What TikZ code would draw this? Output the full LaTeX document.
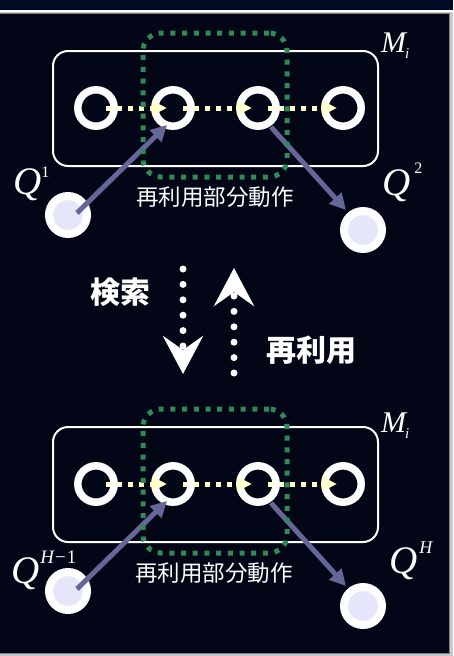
\documentclass[tikz,border=0pt]{standalone}
\usepackage{fontspec}
\newfontfamily\cjk{Noto Sans CJK JP}
\newfontfamily\tms{Liberation Serif}
\usetikzlibrary{arrows.meta,calc}
\definecolor{bg}{RGB}{3,6,22}
\definecolor{topband}{RGB}{0,12,38}
\definecolor{frame}{RGB}{200,200,205}
\definecolor{lav}{RGB}{230,230,250}
\definecolor{pur}{RGB}{102,102,153}
\definecolor{ylw}{RGB}{255,255,204}
\definecolor{grn}{RGB}{46,139,87}
\begin{document}
\begin{tikzpicture}[x=1pt,y=-1pt,
 ring/.style={circle,draw=white,line width=7.5pt,minimum size=36.4pt,inner sep=0pt},
 qnode/.style={circle,draw=white,fill=lav,line width=8pt,minimum size=38pt,inner sep=0pt},
 mbox/.style={draw=white,line width=2pt,rounded corners=15pt,minimum width=325pt,minimum height=115pt,inner sep=0pt},
 gbox/.style={draw=grn,line width=5pt,dash pattern=on 5pt off 6.7pt,rounded corners=18pt,minimum width=144pt,minimum height=144pt,inner sep=0pt},
 seq/.style={draw=ylw,line width=5pt,dash pattern=on 5pt off 6pt,-{Triangle[length=15pt,width=14pt]},shorten <=10pt,shorten >=6pt},
 use/.style={draw=pur,line width=5pt,-{Triangle[length=16pt,width=16pt]}},
 flow/.style={draw=white,line width=7pt,line cap=round,dash pattern=on 0pt off 15.4pt,-{Stealth[length=38pt,width=40pt,inset=14pt]}},
 lbl/.style={text=white,inner sep=0pt},
 part/.style={lbl,font=\cjk\fontsize{22.5}{24}\selectfont},
 big/.style={lbl,font=\cjk\bfseries\fontsize{30}{32}\selectfont},
]
\useasboundingbox (0,0) rectangle (453,656);
% background and frame
\fill[frame] (0,0) rectangle (453,656);
\fill[topband] (0,0) rectangle (453,9.5);
\fill[white] (0,9.5) rectangle (453,12);
\fill[bg] (0,12.5) rectangle (450,654);
\draw[gray,line width=1pt] (-1,13.5) -- (449.5,13.5) -- (449.5,653.5) -- (-1,653.5);

% two copies of the sequence diagram
\foreach \k/\s in {t/0,b/376}{
 \begin{scope}[shift={(0,\s)}]
  \node[mbox] (box\k) at (215.5,108.5) {};
  \node[ring] (c1\k) at (96,108) {};
  \node[ring] (c2\k) at (173,108) {};
  \node[ring] (c3\k) at (258,108) {};
  \node[ring] (c4\k) at (343,108) {};
  \draw[seq] (c1\k.center) -- (c2\k.center);
  \draw[seq] (c2\k.center) -- (c3\k.center);
  \draw[seq] (c3\k.center) -- (c4\k.center);
  \node[qnode] (qa\k) at (68,215) {};
  \node[qnode] (qb\k) at (363,230) {};
  \draw[use] ($(qa\k.center)+(9,-2)$) -- ($(c2\k.center)+(-6,17)$);
  \draw[use] ($(c3\k.center)+(13,19)$) -- ($(qb\k.center)+(-17,-20)$);
  \node[gbox] (g\k) at (215,105) {};
 \end{scope}
}
\node[part] (pt) at (215,197) {再利用部分動作};
\node[part] (pb) at (214,573) {再利用部分動作};

% labels
\node[lbl,anchor=base west] (mt) at (381,52) {\tms\fontsize{30}{30}\selectfont\itshape M\kern-1pt\raisebox{-6pt}{\fontsize{15}{15}\selectfont i}};
\node[lbl,anchor=base west] (mb) at (381,432) {\tms\fontsize{30}{30}\selectfont\itshape M\kern-1pt\raisebox{-6pt}{\fontsize{15}{15}\selectfont i}};
\node[lbl,anchor=base west] (lq1) at (13,194) {\tms\fontsize{39}{39}\selectfont\itshape Q\kern0pt\raisebox{17pt}{\fontsize{16}{16}\selectfont\upshape 1}};
\node[lbl,anchor=base west] (lq2) at (382,195) {\tms\fontsize{39}{39}\selectfont\itshape Q\kern4pt\raisebox{22pt}{\fontsize{16}{16}\selectfont\upshape 2}};
\node[lbl,anchor=base west] (lqh1) at (11,583) {\tms\fontsize{39}{39}\selectfont\itshape Q\kern1pt\raisebox{20pt}{\fontsize{19}{19}\selectfont H\upshape\kern1pt−\kern1pt1}};
\node[lbl,anchor=base west] (lqh) at (389,573) {\tms\fontsize{39}{39}\selectfont\itshape Q\kern2pt\raisebox{20pt}{\fontsize{18}{18}\selectfont H}};

% search / reuse arrows
\coordinate (d1) at (183,269);
\coordinate (d2) at (183,374);
\coordinate (u1) at (234,373);
\coordinate (u2) at (234,268);
\draw[flow] (d1) -- (d2);
\draw[flow] (u1) -- (u2);
\node[big] (kensaku) at (120,292) {検索};
\node[big] (saiyou) at (311,350) {再利用};
\end{tikzpicture}
\end{document}
